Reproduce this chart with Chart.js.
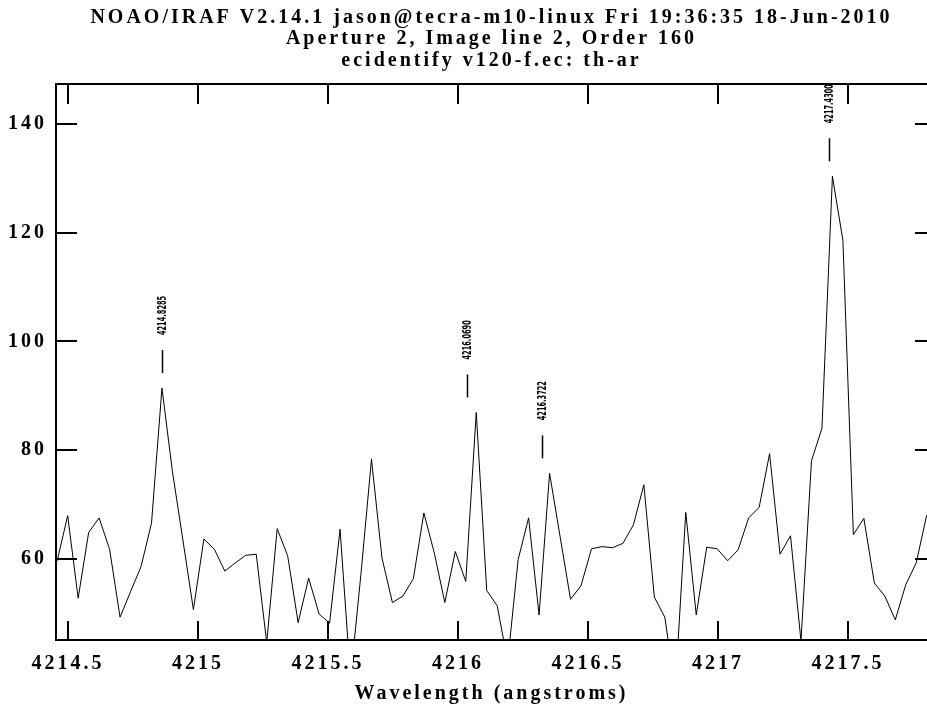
<!DOCTYPE html>
<html>
<head>
<meta charset="utf-8">
<title>ecidentify v120-f.ec: th-ar</title>
<script src="https://cdn.jsdelivr.net/npm/chart.js@4.4.1/dist/chart.umd.min.js"></script>
<style>
  html, body { margin: 0; padding: 0; background: #fff; }
  canvas { display: block; }
</style>
</head>
<body>
<canvas id="specChart" width="927" height="709"></canvas>
<script>
// Aperture 2, order 160: wavelength of each pixel (angstroms) and its counts
var wavelengths = [
  4214.4585, 4214.4988, 4214.5391, 4214.5794, 4214.6197, 4214.6600, 4214.7003, 4214.7405, 4214.7808, 4214.8211,
  4214.8614, 4214.9017, 4214.9420, 4214.9823, 4215.0226, 4215.0629, 4215.1032, 4215.1435, 4215.1838, 4215.2240,
  4215.2643, 4215.3046, 4215.3449, 4215.3852, 4215.4255, 4215.4658, 4215.5061, 4215.5464, 4215.5867, 4215.6270,
  4215.6673, 4215.7076, 4215.7478, 4215.7881, 4215.8284, 4215.8687, 4215.9090, 4215.9493, 4215.9896, 4216.0299,
  4216.0702, 4216.1105, 4216.1508, 4216.1911, 4216.2313, 4216.2716, 4216.3119, 4216.3522, 4216.3925, 4216.4328,
  4216.4731, 4216.5134, 4216.5537, 4216.5940, 4216.6343, 4216.6746, 4216.7149, 4216.7551, 4216.7954, 4216.8357,
  4216.8760, 4216.9163, 4216.9566, 4216.9969, 4217.0372, 4217.0775, 4217.1178, 4217.1581, 4217.1984, 4217.2386,
  4217.2789, 4217.3192, 4217.3595, 4217.3998, 4217.4401, 4217.4804, 4217.5207, 4217.5610, 4217.6013, 4217.6416,
  4217.6819, 4217.7222, 4217.7624, 4217.8027
];
var counts = [
  59.6, 67.9, 52.7, 64.8, 67.5, 61.7, 49.2, 53.9, 58.5, 66.5,
  91.4, 76.0, 63.4, 50.6, 63.6, 61.7, 57.7, 59.2, 60.6, 60.8,
  44.5, 65.5, 60.5, 48.2, 56.4, 49.8, 48.1, 65.4, 37.8, 57.3,
  78.3, 60.1, 51.9, 53.1, 56.3, 68.4, 61.0, 51.9, 61.3, 55.8,
  86.9, 54.1, 51.3, 41.0, 59.8, 67.5, 49.6, 75.7, 64.1, 52.5,
  55.0, 61.8, 62.2, 62.0, 62.8, 66.2, 73.6, 52.9, 49.2, 36.0,
  68.5, 49.6, 62.1, 61.8, 59.6, 61.6, 67.5, 69.4, 79.3, 60.8,
  64.2, 44.8, 78.0, 84.0, 130.4, 118.6, 64.4, 67.4, 55.5, 53.1,
  48.7, 55.2, 59.2, 68.0
];

var xTicks = [4214.5, 4215, 4215.5, 4216, 4216.5, 4217, 4217.5];
var yTicks = [60, 80, 100, 120, 140];

// identified Th-Ar lines: catalogue wavelength and where the feature was measured
var lineLabels = ['4214.8285', '4216.0690', '4216.3722', '4217.4300'];
var lineMarks = [4214.8604, 4216.0358, 4216.3238, 4217.4281];

var titleLines = [
  'NOAO/IRAF V2.14.1 jason@tecra-m10-linux Fri 19:36:35 18-Jun-2010',
  'Aperture 2, Image line 2, Order 160',
  'ecidentify v120-f.ec: th-ar'
];

var serif = "'Liberation Serif', 'Times New Roman', serif";

// frame, inward ticks and the feature marks, drawn the way gkimosaic does
var irafFrame = {
  id: 'irafFrame',
  beforeDraw: function (chart) {
    chart.ctx.letterSpacing = '3px';
  },
  afterDraw: function (chart) {
    var ctx = chart.ctx;
    var a = chart.chartArea;
    var xs = chart.scales.x;
    var ys = chart.scales.y;

    ctx.save();
    ctx.letterSpacing = '0px';
    ctx.strokeStyle = '#000';
    ctx.lineWidth = 2;
    ctx.beginPath();
    ctx.moveTo(a.left, a.top);
    ctx.lineTo(a.right, a.top);
    xs.ticks.forEach(function (t) {
      var px = Math.round(xs.getPixelForValue(t.value));
      ctx.moveTo(px, a.bottom);
      ctx.lineTo(px, a.bottom - 19);
      ctx.moveTo(px, a.top);
      ctx.lineTo(px, a.top + 20);
    });
    // the right-hand frame edge falls just past the window, so its ticks show short
    ys.ticks.forEach(function (t) {
      var py = Math.round(ys.getPixelForValue(t.value));
      ctx.moveTo(a.left, py);
      ctx.lineTo(a.left + 21, py);
      ctx.moveTo(a.right, py);
      ctx.lineTo(a.right - 12, py);
    });
    ctx.stroke();

    // feature marks sit above the highest pixel of each line
    ctx.lineWidth = 1.5;
    ctx.fillStyle = '#000';
    ctx.font = "bold 12px 'DejaVu Sans', sans-serif";
    ctx.textBaseline = 'middle';
    ctx.textAlign = 'left';
    lineMarks.forEach(function (w, i) {
      var peak = -Infinity;
      wavelengths.forEach(function (wl, j) {
        if (Math.abs(wl - w) < 0.045) peak = Math.max(peak, counts[j]);
      });
      var px = Math.round(xs.getPixelForValue(w)) + 0.5;
      var base = ys.getPixelForValue(peak) - 15;
      ctx.beginPath();
      ctx.moveTo(px, base);
      ctx.lineTo(px, base - 23);
      ctx.stroke();
      ctx.save();
      ctx.translate(px + 0.5, base - 38);
      ctx.rotate(-Math.PI / 2);
      ctx.scale(0.55, 1);
      ctx.fillText(lineLabels[i], 0, 0);
      ctx.restore();
    });
    ctx.restore();
    ctx.letterSpacing = '0px';
  }
};

var points = wavelengths.map(function (w, i) {
  return { x: w, y: counts[i] };
});

var ctx = document.getElementById('specChart').getContext('2d');
var specChart = new Chart(ctx, {
  type: 'line',
  data: {
    datasets: [{
      data: points,
      borderColor: '#000',
      borderWidth: 1,
      pointRadius: 0,
      tension: 0,
      fill: false
    }]
  },
  options: {
    responsive: false,
    devicePixelRatio: 1,
    animation: false,
    events: [],
    plugins: {
      legend: { display: false },
      tooltip: { enabled: false },
      title: {
        display: true,
        fullSize: false,
        text: titleLines,
        color: '#000',
        font: { family: serif, size: 20, weight: 'bold', lineHeight: 1.075 },
        padding: { top: 7, bottom: 12.5 }
      }
    },
    scales: {
      x: {
        type: 'linear',
        min: 4214.45385,
        max: 4217.80385,
        afterBuildTicks: function (scale) {
          scale.ticks = xTicks.map(function (v) { return { value: v }; });
        },
        afterFit: function (scale) { scale.height = 69; },
        grid: { display: false, drawTicks: false },
        border: { display: true, color: '#000', width: 2 },
        ticks: {
          color: '#000',
          padding: 12,
          maxRotation: 0,
          autoSkip: false,
          font: { family: serif, size: 20, weight: 'bold' },
          callback: function (v) { return String(v); }
        },
        title: {
          display: true,
          text: 'Wavelength (angstroms)',
          color: '#000',
          font: { family: serif, size: 20, weight: 'bold', lineHeight: 1.2 },
          padding: { top: 0, bottom: 3 }
        }
      },
      y: {
        min: 45,
        max: 147.4,
        afterBuildTicks: function (scale) {
          scale.ticks = yTicks.map(function (v) { return { value: v }; });
        },
        afterFit: function (scale) { scale.width = 56; },
        grid: { display: false, drawTicks: false },
        border: { display: true, color: '#000', width: 2 },
        ticks: {
          color: '#000',
          padding: 9,
          font: { family: serif, size: 20, weight: 'bold' },
          callback: function (v) { return String(v); }
        }
      }
    }
  },
  plugins: [irafFrame]
});
</script>
</body>
</html>
